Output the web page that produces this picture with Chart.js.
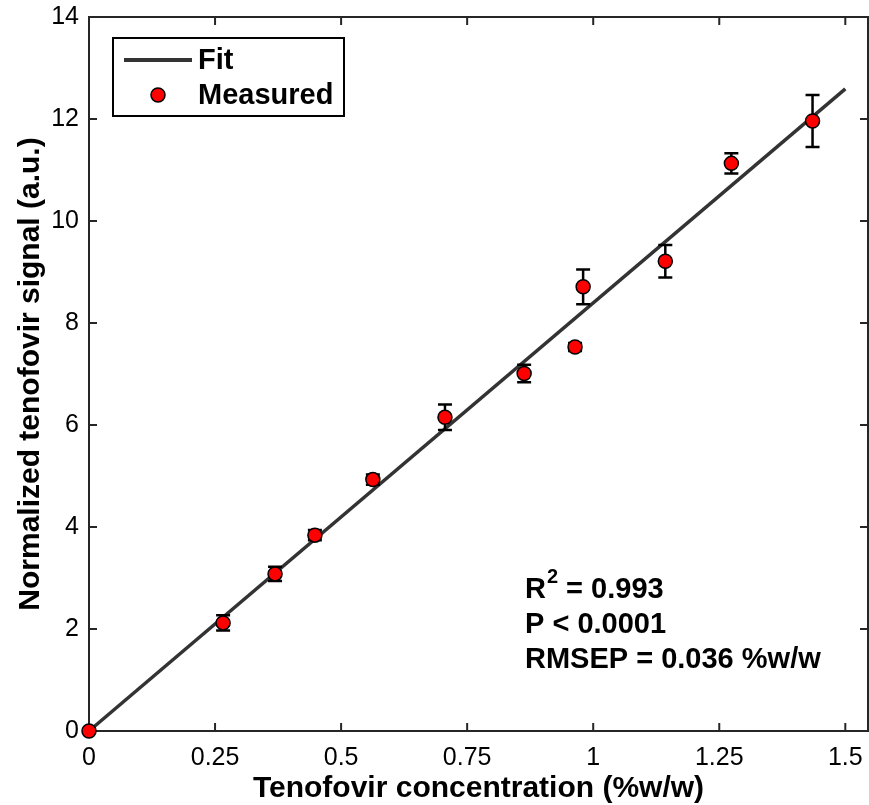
<!DOCTYPE html>
<html>
<head>
<meta charset="utf-8">
<script src="https://cdn.jsdelivr.net/npm/chart.js"></script>
<style>
	html, body { margin: 0; padding: 0; background: #fff; overflow: hidden; }
	#calib { display: block; }
</style>
</head>
<body>
<canvas id="calib" width="869" height="805"></canvas>
<script>
// values
const concentration = [0, 0.266, 0.369, 0.448, 0.563, 0.706, 0.863, 0.964, 0.980, 1.143, 1.274, 1.435];
const signal = [0, 2.12, 3.08, 3.84, 4.93, 6.15, 7.01, 7.53, 8.71, 9.21, 11.13, 11.96];
const signalErr = [0, 0.15, 0.14, 0.1, 0.1, 0.25, 0.17, 0.08, 0.34, 0.32, 0.2, 0.51];
const fitX = [0, 1.5];
const fitY = [0, 12.59];
const xTicks = [0, 0.25, 0.5, 0.75, 1, 1.25, 1.5];
const xTickLabels = ['0', '0.25', '0.5', '0.75', '1', '1.25', '1.5'];
const yTicks = [0, 2, 4, 6, 8, 10, 12, 14];
const statLines = ['R|2| = 0.993', 'P < 0.0001', 'RMSEP = 0.036 %w/w'];

const FONT = '"Liberation Sans", Arial, sans-serif';
const AXIS = '#262626';

// box + inward ticks on all four sides
const framePlugin = {
	id: 'frame',
	beforeDatasetsDraw(chart) {
		const { ctx, chartArea: a, scales: { x, y } } = chart;
		ctx.save();
		ctx.strokeStyle = AXIS;
		ctx.lineWidth = 2;
		ctx.strokeRect(a.left, a.top, a.right - a.left, a.bottom - a.top);
		ctx.beginPath();
		xTicks.forEach(v => {
			const px = x.getPixelForValue(v);
			ctx.moveTo(px, a.bottom); ctx.lineTo(px, a.bottom - 8);
			ctx.moveTo(px, a.top); ctx.lineTo(px, a.top + 8);
		});
		yTicks.forEach(v => {
			const py = y.getPixelForValue(v);
			ctx.moveTo(a.left, py); ctx.lineTo(a.left + 8, py);
			ctx.moveTo(a.right, py); ctx.lineTo(a.right - 8, py);
		});
		ctx.stroke();
		ctx.restore();
	}
};

// error bars under the markers, above the fit line
const errorBarPlugin = {
	id: 'errorBars',
	beforeDatasetDraw(chart, args) {
		if (args.index !== 0) return;
		const { ctx, scales: { x, y } } = chart;
		ctx.save();
		ctx.strokeStyle = '#000';
		ctx.lineWidth = 2.5;
		concentration.forEach((c, i) => {
			const e = signalErr[i];
			if (!e) return;
			const px = x.getPixelForValue(c);
			const top = y.getPixelForValue(signal[i] + e);
			const bot = y.getPixelForValue(signal[i] - e);
			ctx.beginPath();
			ctx.moveTo(px, top); ctx.lineTo(px, bot);
			ctx.moveTo(px - 7, top); ctx.lineTo(px + 7, top);
			ctx.moveTo(px - 7, bot); ctx.lineTo(px + 7, bot);
			ctx.stroke();
		});
		ctx.restore();
	}
};

// MATLAB-style legend box and the statistics text
const legendPlugin = {
	id: 'matLegend',
	afterDraw(chart) {
		const { ctx } = chart;
		const ds = chart.data.datasets;
		ctx.save();
		ctx.fillStyle = '#fff';
		ctx.fillRect(113, 38, 231, 78);
		ctx.strokeStyle = '#000';
		ctx.lineWidth = 2;
		ctx.strokeRect(113, 38, 231, 78);

		ctx.strokeStyle = ds[1].borderColor;
		ctx.lineWidth = 4;
		ctx.beginPath();
		ctx.moveTo(124, 60); ctx.lineTo(192, 60);
		ctx.stroke();

		ctx.beginPath();
		ctx.arc(158, 95, 7, 0, Math.PI * 2);
		ctx.fillStyle = ds[0].backgroundColor;
		ctx.fill();
		ctx.lineWidth = 1.5;
		ctx.strokeStyle = '#000';
		ctx.stroke();

		ctx.fillStyle = '#000';
		ctx.font = 'bold 29px ' + FONT;
		ctx.textBaseline = 'middle';
		ctx.textAlign = 'left';
		ctx.fillText(ds[1].label, 198, 61);
		ctx.fillText(ds[0].label, 198, 96);

		// stats block
		const x0 = 525;
		statLines.forEach((line, i) => {
			const yy = 590 + i * 35;
			const parts = line.split('|');
			let cx = x0;
			parts.forEach((p, j) => {
				if (j === 1) {
					ctx.font = 'bold 20px ' + FONT;
					ctx.fillText(p, cx + 1, yy - 13);
					cx += ctx.measureText(p).width + 1;
				} else {
					ctx.font = 'bold 29px ' + FONT;
					ctx.fillText(p, cx, yy);
					cx += ctx.measureText(p).width;
				}
			});
		});
		ctx.restore();
	}
};

new Chart(document.getElementById('calib'), {
	data: {
		datasets: [
			{
				type: 'scatter',
				label: 'Measured',
				data: concentration.map((c, i) => ({ x: c, y: signal[i] })),
				backgroundColor: '#ff0000',
				borderColor: '#000',
				borderWidth: 1.5,
				pointRadius: 7,
				clip: false
			},
			{
				type: 'line',
				label: 'Fit',
				data: fitX.map((v, i) => ({ x: v, y: fitY[i] })),
				borderColor: '#333333',
				borderWidth: 3.5,
				pointRadius: 0,
				fill: false,
				clip: false
			}
		]
	},
	options: {
		responsive: false,
		animation: false,
		layout: { autoPadding: false, padding: { top: 17, right: 1, left: 0, bottom: 0 } },
		plugins: { legend: { display: false }, tooltip: { enabled: false } },
		scales: {
			x: {
				type: 'linear',
				min: 0,
				max: 1.545,
				afterBuildTicks: (s) => { s.ticks = xTicks.map(v => ({ value: v })); },
				afterFit: (s) => { s.height = 74; s.paddingLeft = 0; s.paddingRight = 0; },
				grid: { display: false, drawTicks: false },
				border: { display: false },
				ticks: {
					padding: 12,
					color: '#000',
					font: { family: FONT, size: 25 },
					maxRotation: 0,
					autoSkip: false,
					callback: (v) => xTickLabels[xTicks.indexOf(v)]
				},
				title: {
					display: true,
					text: 'Tenofovir concentration (%w/w)',
					color: '#000',
					font: { family: FONT, size: 30, weight: 'bold', lineHeight: 1.1 },
					padding: { top: 0, bottom: 0 }
				}
			},
			y: {
				type: 'linear',
				min: 0,
				max: 14,
				afterBuildTicks: (s) => { s.ticks = yTicks.map(v => ({ value: v })); },
				afterFit: (s) => { s.width = 89; s.paddingTop = 0; s.paddingBottom = 0; },
				grid: { display: false, drawTicks: false },
				border: { display: false },
				ticks: {
					padding: 10,
					color: '#000',
					font: { family: FONT, size: 25 }
				},
				title: {
					display: true,
					text: 'Normalized tenofovir signal (a.u.)',
					color: '#000',
					font: { family: FONT, size: 30, weight: 'bold', lineHeight: 1.1 },
					padding: { top: 14, bottom: 0 }
				}
			}
		}
	},
	plugins: [framePlugin, errorBarPlugin, legendPlugin]
});
</script>
</body>
</html>
